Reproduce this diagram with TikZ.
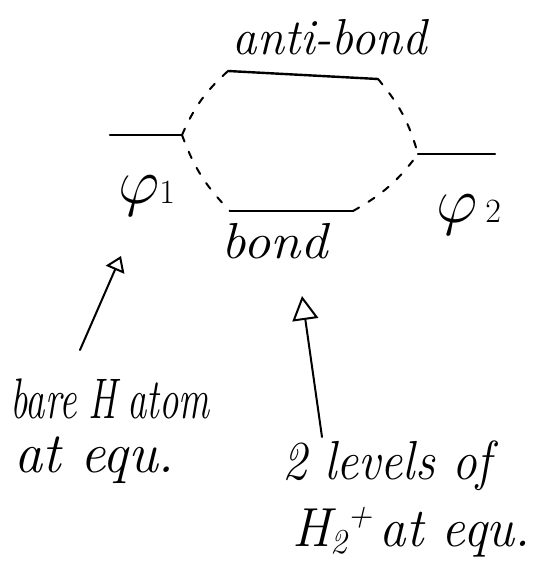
\documentclass[tikz,border=0pt]{standalone}
\usetikzlibrary{arrows.meta}
\newcommand{\bigphi}{\scalebox{3.1}{\fontsize{20}{24}\selectfont$\varphi$}}
\newcommand{\subdigit}[1]{{\upshape\fontsize{34}{36}\selectfont #1}}
\begin{document}
\begin{tikzpicture}[x=1pt,y=-1pt,
  level/.style={line width=2.4pt, line cap=round},
  link/.style={line width=2pt, dash pattern=on 7pt off 11pt, line cap=round},
  lbl/.style={font=\itshape\fontsize{44}{48}\selectfont, inner sep=0pt},
  pointer/.style={line width=2pt, line cap=round}]
\useasboundingbox (0,0) rectangle (539,581);

% energy levels
\coordinate (p1a) at (110,135); \coordinate (p1b) at (182,135);
\coordinate (aba) at (228,71);  \coordinate (abb) at (378,79);
\coordinate (p2a) at (418,154); \coordinate (p2b) at (495,154);
\coordinate (bda) at (230,211); \coordinate (bdb) at (353,211);
\draw[level] (p1a) -- (p1b);
\draw[level] (aba) -- (abb);
\draw[level] (p2a) -- (p2b);
\draw[level] (bda) -- (bdb);

% correlation lines
\draw[link] (p1b) to[bend left=12] (aba);
\draw[link] (p1b) to[bend right=12] (bda);
\draw[link] (abb) to[bend left=12] (p2a);
\draw[link] (bdb) to[bend right=12] (p2a);

% labels
\node[lbl, anchor=base] (anti) at (330,54) {\scalebox{1.11}[1.15]{anti-bond}};
\node[lbl, anchor=base west] (phi1) at (118,203) {\bigphi\subdigit{1}};
\node[lbl, anchor=base west] (phi2) at (436,222) {\bigphi\hspace{8pt}\subdigit{2}};
\node[lbl, anchor=base] (bond) at (275,258) {\scalebox{1.24}[1.15]{bond}};
\node[lbl, anchor=base west] (bare) at (10,418) {\scalebox{0.88}[1.3]{bare\hspace{14pt}H\hspace{12pt}atom}};
\node[lbl, anchor=base west] (eq1) at (14,472) {\scalebox{1.28}[1.3]{at equ.}};
\node[lbl, anchor=base west] (lev) at (282,479) {\scalebox{1.12}[1.25]{2 levels of}};
\node[lbl, anchor=base west] (h2) at (292,546) {\scalebox{1.2}[1.25]{H\raisebox{-6pt}{\fontsize{28}{30}\selectfont 2}\raisebox{16pt}{\fontsize{28}{30}\selectfont +}\hspace{6pt}at equ.}};

% pointers
\coordinate (t1) at (80,350); \coordinate (h1) at (121,256);
\coordinate (t2) at (322,437); \coordinate (h2tip) at (302,296);
\draw[pointer, -{Triangle[open, length=15pt, width=20pt, line width=2pt]}] (t1) -- (h1);
\draw[pointer, -{Triangle[open, length=24pt, width=26pt, line width=2pt]}] (t2) -- (h2tip);
\end{tikzpicture}
\end{document}
